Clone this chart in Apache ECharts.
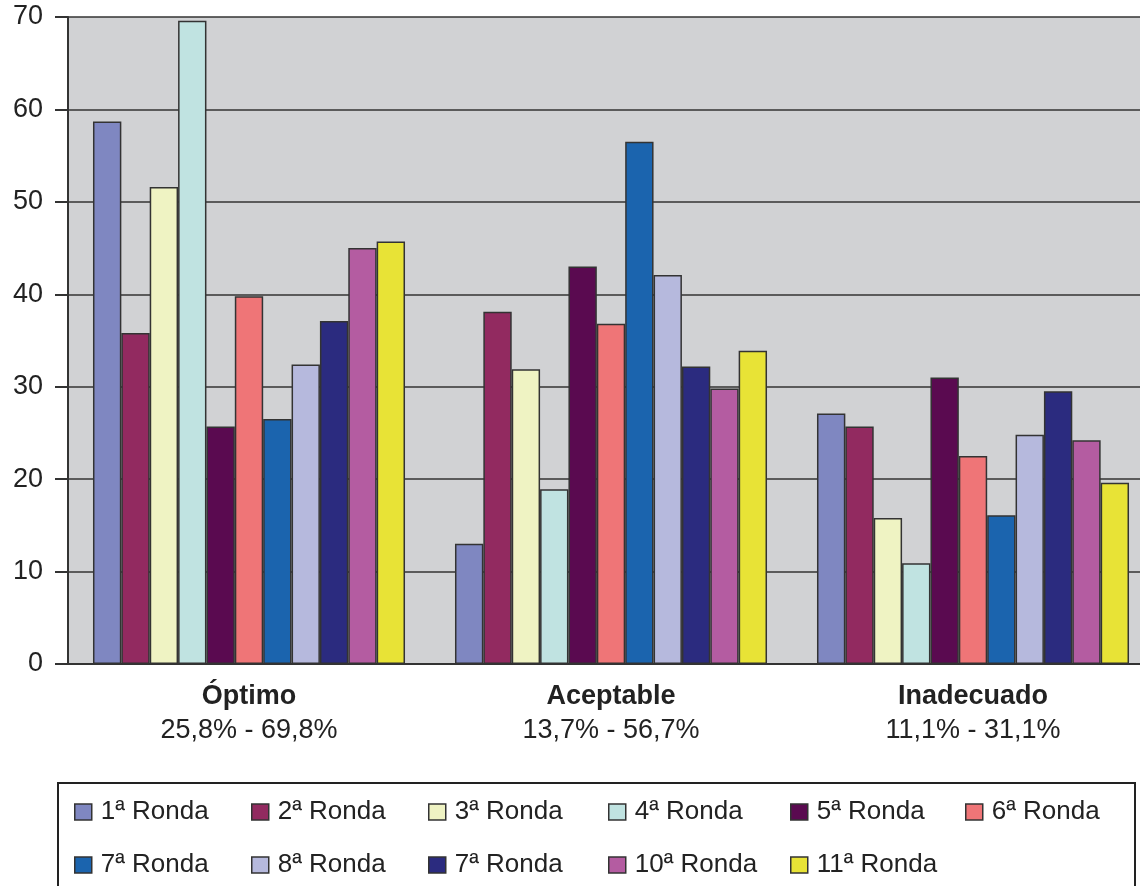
<!DOCTYPE html>
<html>
<head>
<meta charset="utf-8">
<script src="https://cdn.jsdelivr.net/npm/echarts@6/dist/echarts.min.js"></script>
<style>
html,body{margin:0;padding:0;background:#fff;}
#chart{width:1140px;height:886px;}
</style>
</head>
<body>
<div id="chart"></div>
<script>
// ---- data ----
var categories = ['Óptimo', 'Aceptable', 'Inadecuado'];
var categoryRanges = ['25,8% - 69,8%', '13,7% - 56,7%', '11,1% - 31,1%'];
var seriesKeys = ['1ª Ronda','2ª Ronda','3ª Ronda','4ª Ronda','5ª Ronda','6ª Ronda','7ª Ronda','8ª Ronda','9ª Ronda','10ª Ronda','11ª Ronda'];
var legendLabels = ['1ª Ronda','2ª Ronda','3ª Ronda','4ª Ronda','5ª Ronda','6ª Ronda','7ª Ronda','8ª Ronda','7ª Ronda','10ª Ronda','11ª Ronda'];
var ronda1  = [58.7, 13.0, 27.1];
var ronda2  = [35.8, 38.1, 25.7];
var ronda3  = [51.6, 31.9, 15.8];
var ronda4  = [69.6, 18.9, 10.9];
var ronda5  = [25.7, 43.0, 31.0];
var ronda6  = [39.8, 36.8, 22.5];
var ronda7  = [26.5, 56.5, 16.1];
var ronda8  = [32.4, 42.1, 24.8];
var ronda9  = [37.1, 32.2, 29.5];
var ronda10 = [45.0, 29.8, 24.2];
var ronda11 = [45.7, 33.9, 19.6];
var yTicks = [0, 10, 20, 30, 40, 50, 60, 70];

var seriesValues = [ronda1, ronda2, ronda3, ronda4, ronda5, ronda6, ronda7, ronda8, ronda9, ronda10, ronda11];
var colors = ['#7f87c1','#922a60','#eff3c3','#c0e3e1','#5a0a50','#ef7577','#1b64ae','#b6b9dd','#2b2b7f','#b45ca1','#e8e336'];

var labelMap = {};
seriesKeys.forEach(function(k, i){ labelMap[k] = legendLabels[i]; });

var FONT = '"Liberation Sans", Arial, Helvetica, sans-serif';
var TXT = '#222';

var series = seriesKeys.map(function(k, i){
  return {
    name: k,
    type: 'bar',
    data: seriesValues[i],
    barGap: '0%',
    barCategoryGap: '13.8%',
    itemStyle: { color: colors[i], borderColor: '#333', borderWidth: 1.5 }
  };
});

// legend layout: fixed columns
var colX = [74, 251, 428, 608, 790, 965];
var rowY = [799, 852];
var legends = seriesKeys.map(function(k, i){
  var r = i < 6 ? 0 : 1;
  var c = i < 6 ? i : i - 6;
  return {
    data: [k],
    left: colX[c],
    top: rowY[r],
    padding: 0,
    icon: 'rect',
    itemWidth: 17,
    itemHeight: 16,
    selectedMode: false,
    itemStyle: { borderColor: '#333', borderWidth: 1.5 },
    formatter: function(name){ return labelMap[name]; },
    textStyle: { fontFamily: FONT, fontSize: 26, color: TXT, padding: [0,0,0,4] }
  };
});

var chart = echarts.init(document.getElementById('chart'), null, {renderer: 'canvas'});
chart.setOption({
  animation: false,
  backgroundColor: '#ffffff',
  color: colors,
  grid: {
    left: 68, top: 17, right: -14, bottom: 222,
    show: true, backgroundColor: '#d1d2d4', borderWidth: 0,
    outerBoundsMode: 'none', containLabel: false
  },
  legend: legends,
  graphic: [{
    type: 'rect',
    shape: { x: 58, y: 783, width: 1077, height: 140 },
    style: { fill: 'none', stroke: '#222', lineWidth: 2 },
    silent: true
  }],
  xAxis: {
    type: 'category',
    data: categories,
    axisLine: { show: true, lineStyle: { color: '#333', width: 2 } },
    axisTick: { show: false },
    axisLabel: {
      margin: 16,
      interval: 0,
      formatter: function(v, idx){ return '{b|' + v + '}\n{r|' + categoryRanges[idx] + '}'; },
      rich: {
        b: { fontFamily: FONT, fontSize: 27, fontWeight: 'bold', color: TXT, lineHeight: 34 },
        r: { fontFamily: FONT, fontSize: 27, color: TXT, lineHeight: 34 }
      }
    },
    splitLine: { show: false }
  },
  yAxis: {
    type: 'value',
    min: yTicks[0], max: yTicks[yTicks.length - 1], interval: 10,
    axisLine: { show: true, lineStyle: { color: '#333', width: 2 } },
    axisTick: { show: true, inside: false, length: 13, lineStyle: { color: '#333', width: 2 } },
    axisLabel: { margin: 25, fontFamily: FONT, fontSize: 27, color: TXT },
    splitLine: { show: true, lineStyle: { color: '#333', width: 1.5 } }
  },
  series: series
});
</script>
</body>
</html>
